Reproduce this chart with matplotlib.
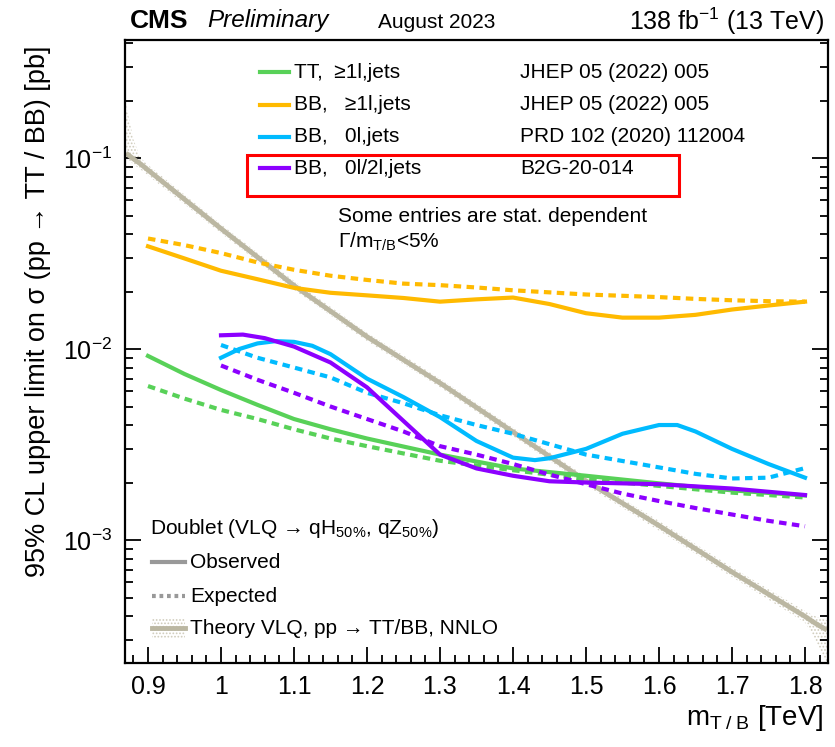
import numpy as np
import matplotlib as mpl
mpl.use('Agg')
import matplotlib.pyplot as plt
from matplotlib.lines import Line2D
from matplotlib.patches import Rectangle

mpl.rcParams['font.family'] = ['Liberation Sans', 'DejaVu Sans']
mpl.rcParams['mathtext.fontset'] = 'custom'
mpl.rcParams['mathtext.rm'] = 'Liberation Sans'
mpl.rcParams['mathtext.it'] = 'Liberation Sans:italic'
mpl.rcParams['mathtext.bf'] = 'Liberation Sans:bold'
mpl.rcParams['hatch.linewidth'] = 0.8

#=============
# Data
#=============
# TT, >=1l,jets
m_tt = [0.9, 0.95, 1.0, 1.05, 1.1, 1.15, 1.2, 1.3, 1.4, 1.5, 1.6, 1.7, 1.8]
tt_obs = [0.0092, 0.0074, 0.0061, 0.0051, 0.0043, 0.0038, 0.0034, 0.0028, 0.00237, 0.00217, 0.00198, 0.00182, 0.00171]
tt_exp = [0.0064, 0.0055, 0.0048, 0.0043, 0.0038, 0.0034, 0.0031, 0.0026, 0.00232, 0.00208, 0.00192, 0.00177, 0.00167]

# BB, >=1l,jets
m_bb1 = [0.9, 0.95, 1.0, 1.05, 1.1, 1.15, 1.2, 1.25, 1.3, 1.35, 1.4, 1.45, 1.5, 1.55, 1.6, 1.65, 1.7, 1.75, 1.8]
bb1_obs = [0.0345, 0.0298, 0.0257, 0.0232, 0.0209, 0.0197, 0.0191, 0.0185, 0.0177, 0.0182, 0.0186, 0.0172,
           0.0154, 0.0146, 0.0146, 0.0151, 0.0161, 0.0169, 0.0177]
bb1_exp = [0.0379, 0.0350, 0.0318, 0.0284, 0.0260, 0.0242, 0.0230, 0.0220, 0.0216, 0.0210, 0.0203, 0.0198,
           0.0193, 0.0190, 0.0187, 0.0183, 0.0180, 0.0178, 0.0177]

# BB, 0l,jets
m_bb0_obs = [1.0, 1.025, 1.05, 1.075, 1.1, 1.125, 1.15, 1.2, 1.25, 1.3, 1.35, 1.4, 1.43, 1.45, 1.5,
             1.55, 1.6, 1.625, 1.65, 1.7, 1.75, 1.8]
bb0_obs = [0.0090, 0.0100, 0.0107, 0.0110, 0.0109, 0.0104, 0.0094, 0.0070, 0.0056, 0.0044, 0.0033, 0.0027,
           0.00262, 0.00268, 0.0030, 0.0036, 0.0040, 0.0040, 0.0037, 0.0030, 0.0025, 0.00212]
m_bb0_exp = [1.0, 1.05, 1.1, 1.15, 1.2, 1.25, 1.3, 1.35, 1.4, 1.5, 1.6, 1.65, 1.7, 1.75, 1.8]
bb0_exp = [0.0105, 0.0090, 0.0080, 0.0071, 0.0059, 0.0052, 0.0045, 0.0040, 0.0036, 0.0028, 0.0024,
           0.00222, 0.00210, 0.00212, 0.00238]

# BB, 0l/2l,jets
m_b2g = [1.0, 1.03, 1.06, 1.1, 1.15, 1.2, 1.25, 1.3, 1.35, 1.4, 1.45, 1.5, 1.6, 1.7, 1.8]
b2g_obs = [0.0118, 0.0119, 0.0114, 0.0103, 0.0085, 0.0063, 0.0042, 0.0028, 0.00237, 0.00217, 0.00203,
           0.00200, 0.00196, 0.00186, 0.00172]
m_b2g_exp = [1.0, 1.05, 1.1, 1.15, 1.2, 1.25, 1.3, 1.35, 1.4, 1.45, 1.5, 1.55, 1.6, 1.65, 1.7, 1.75, 1.8]
b2g_exp = [0.0082, 0.0069, 0.0059, 0.0050, 0.0043, 0.0037, 0.0031, 0.0028, 0.0025, 0.0022, 0.00196,
           0.00175, 0.00160, 0.00147, 0.00136, 0.00126, 0.00118]

# Theory VLQ, pp -> TT/BB, NNLO
m_th = [0.87, 0.88, 0.89, 0.9, 1.0, 1.1, 1.2, 1.3, 1.4, 1.5, 1.6, 1.7, 1.8, 1.81, 1.82, 1.83]
th = [0.106, 0.099, 0.093, 0.0865, 0.0427, 0.0215, 0.0116, 0.00664, 0.00368, 0.00204, 0.00119,
      0.00068, 0.000398, 0.000375, 0.000355, 0.000338]
th_up = [0.19, 0.125, 0.100, 0.092, 0.0450, 0.0227, 0.0122, 0.00700, 0.00388, 0.00215, 0.00126,
         0.00072, 0.000425, 0.000405, 0.000390, 0.000380]
th_dn = [0.100, 0.093, 0.087, 0.081, 0.0404, 0.0204, 0.0110, 0.00630, 0.00349, 0.00193, 0.00112,
         0.00064, 0.000370, 0.000320, 0.000270, 0.000225]

#=============
# Style
#=============
c_green = '#58D158'
c_orange = '#FFBA00'
c_blue = '#00BBFF'
c_purple = '#8C00FF'
c_theory = '#BBB7A2'
lw = 3.0
dash = (1.8, 1.3)

fig = plt.figure(figsize=(8.35, 7.47), dpi=100)
ax = fig.add_axes([125/835, 1-663/747, 703/835, 623/747])

# theory band
ax.fill_between(m_th, th_dn, th_up, facecolor='none', edgecolor='#CFCBBB', hatch='.....', linewidth=0)
ax.plot(m_th, th, color=c_theory, lw=3.5, solid_capstyle='butt')

ax.plot(m_bb1, bb1_exp, color=c_orange, lw=lw, dashes=dash)
ax.plot(m_bb1, bb1_obs, color=c_orange, lw=lw)
ax.plot(m_tt, tt_exp, color=c_green, lw=lw, dashes=dash)
ax.plot(m_tt, tt_obs, color=c_green, lw=lw)
ax.plot(m_bb0_exp, bb0_exp, color=c_blue, lw=lw, dashes=dash)
ax.plot(m_bb0_obs, bb0_obs, color=c_blue, lw=lw)
ax.plot(m_b2g_exp, b2g_exp, color=c_purple, lw=lw, dashes=dash)
ax.plot(m_b2g, b2g_obs, color=c_purple, lw=lw)

ax.set_yscale('log')
ax.set_xlim(0.8685, 1.8315)
ax.set_ylim(2.27e-4, 0.415)
ax.set_xticks(np.arange(0.9, 1.81, 0.1))
ax.set_xticklabels(['0.9', '1', '1.1', '1.2', '1.3', '1.4', '1.5', '1.6', '1.7', '1.8'])
ax.set_xticks(np.arange(0.88, 1.83, 0.02), minor=True)
ax.yaxis.set_minor_formatter(mpl.ticker.NullFormatter())
ax.tick_params(which='both', direction='in', top=False, right=True, width=1.3, labelsize=18)
ax.tick_params(which='major', length=11.5, pad=9)
ax.tick_params(which='minor', length=6)
for s in ax.spines.values():
    s.set_linewidth(1.6)

fig.text(38/835, 1-46/747, '95% CL upper limit on \u03c3 (pp \u2192 TT / BB) [pb]',
         rotation=90, ha='center', va='top', fontsize=19.5)
fig.text(823/835, 1-718/747, r'm$_{\mathregular{T\;/\;B}}$ [TeV]', ha='right', va='center', fontsize=20)

# header
fig.text(130/835, 1-21/747, 'CMS', fontsize=19, fontweight='bold', ha='left', va='center')
fig.text(207/835, 1-21/747, 'Preliminary', fontsize=17.5, style='italic', ha='left', va='center')
fig.text(378/835, 1-22/747, 'August 2023', fontsize=15, ha='left', va='center')
fig.text(824/835, 1-21/747, r'138 fb$^{\mathregular{-1}}$ (13 TeV)', fontsize=18, ha='right', va='center')

# legend (upper)
def axpos(px, py):
    return (px-125)/703, (663-py)/623

rows = [(c_green, 'TT,  \u22651l,jets', 'JHEP 05 (2022) 005', 72),
        (c_orange, 'BB,   \u22651l,jets', 'JHEP 05 (2022) 005', 105),
        (c_blue, 'BB,   0l,jets', 'PRD 102 (2020) 112004', 137),
        (c_purple, 'BB,   0l/2l,jets', 'B2G-20-014', 168)]
for col, lab, ref, py in rows:
    x0, y0 = axpos(260, py)
    x1, _ = axpos(289, py)
    ax.add_line(Line2D([x0, x1], [y0, y0], color=col, lw=lw, transform=ax.transAxes))
    xt, _ = axpos(294, py)
    ax.text(xt, y0, lab, transform=ax.transAxes, fontsize=15, ha='left', va='center')
    xr, _ = axpos(520, py)
    ax.text(xr, y0, ref, transform=ax.transAxes, fontsize=15, ha='left', va='center')

bx0, by0 = axpos(247, 196)
bx1, by1 = axpos(679, 155)
ax.add_patch(Rectangle((bx0, by0), bx1-bx0, by1-by0, transform=ax.transAxes,
                       fill=False, edgecolor='#FF0000', lw=2.2))

xs, ys = axpos(338, 216)
ax.text(xs, ys, 'Some entries are stat. dependent', transform=ax.transAxes, fontsize=15, ha='left', va='center')
xs, ys = axpos(338, 242)
ax.text(xs, ys, r'$\Gamma$/m$_{\mathregular{T/B}}$<5%', transform=ax.transAxes, fontsize=15, ha='left', va='center')

# legend (lower)
xd, yd = axpos(150, 528)
ax.text(xd, yd, 'Doublet (VLQ \u2192 qH$_{\\mathregular{50\\%}}$, qZ$_{\\mathregular{50\\%}}$)',
        transform=ax.transAxes, fontsize=15, ha='left', va='center')
x0, yo = axpos(152, 562)
x1, _ = axpos(185, 562)
ax.add_line(Line2D([x0, x1], [yo, yo], color='#999999', lw=lw, transform=ax.transAxes))
xt, _ = axpos(190, 562)
ax.text(xt, yo, 'Observed', transform=ax.transAxes, fontsize=15, ha='left', va='center')
_, ye = axpos(0, 596)
ax.add_line(Line2D([x0, x1], [ye, ye], color='#999999', lw=lw, dashes=(0.9, 0.9), transform=ax.transAxes))
ax.text(xt, ye, 'Expected', transform=ax.transAxes, fontsize=15, ha='left', va='center')
_, yt = axpos(0, 628)
_, yt0 = axpos(0, 638)
_, yt1 = axpos(0, 618)
ax.add_patch(Rectangle((x0, yt0), x1-x0, yt1-yt0, transform=ax.transAxes, facecolor='none',
                       edgecolor='#CFCBBB', hatch='.....', lw=0))
ax.add_line(Line2D([x0, x1], [yt, yt], color=c_theory, lw=3.5, transform=ax.transAxes))
ax.text(xt, yt, 'Theory VLQ, pp \u2192 TT/BB, NNLO', transform=ax.transAxes, fontsize=15,
        ha='left', va='center')

fig.savefig('out.png', dpi=100)
